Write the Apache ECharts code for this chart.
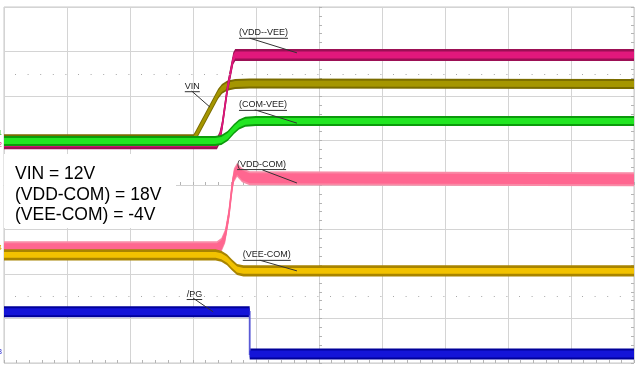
<!DOCTYPE html>
<html><head><meta charset="utf-8">
<script src="https://cdn.jsdelivr.net/npm/echarts@6/dist/echarts.min.js"></script>
<style>html,body{margin:0;padding:0;background:#fff}#c{width:640px;height:368px}</style>
</head><body><div id="c"></div>
<script>
// Oscilloscope screen in divisions: time -5..5 (10 div), amplitude -4..4 (8 div)
const xDivs = [-5, 5];
const yDivs = [-4, 4];
const dottedLevels = [2.5, -2.5];

// Traces [time(div), level(div)]
const vinTrace = [[-5,1.03],[-1.99,1.03],[-1.96,1.1],[-1.6,2.05],[-1.54,2.16],[-1.46,2.23],[-1.33,2.27],[-1.1,2.28],[5,2.27]];
const vddVeeTrace = [[-5,0.94],[-1.62,0.94],[-1.58,1.05],[-1.54,1.3],[-1.45,2.2],[-1.36,2.85],[-1.33,2.92],[5,2.92]];
const comVeeTrace = [[-5,0.99],[-1.65,0.99],[-1.55,1.01],[-1.45,1.1],[-1.35,1.26],[-1.27,1.36],[-1.17,1.42],[-1.0,1.44],[5,1.44]];
const vddComTrace = [[-5,-1.42],[-1.62,-1.42],[-1.55,-1.35],[-1.49,-1.15],[-1.43,-0.66],[-1.38,-0.04],[-1.35,0.22],[-1.30,0.34],[-1.22,0.22],[-1.1,0.15],[5,0.13]];
const veeComTrace = [[-5,-1.57],[-1.64,-1.57],[-1.55,-1.6],[-1.46,-1.68],[-1.38,-1.8],[-1.3,-1.9],[-1.2,-1.93],[5,-1.93]];
const pgTrace = [[-5,-2.85],[-1.1,-2.85],[-1.1,-3.80],[5,-3.80]];

// Trace labels with leader lines
const annoTexts = ['(VDD--VEE)','VIN','(COM-VEE)','(VDD-COM)','(VEE-COM)','/PG'];
const annoAt   = [[-1.27,3.42],[-2.13,2.22],[-1.27,1.80],[-1.30,0.47],[-1.21,-1.57],[-2.10,-2.45]];
const annoFrom = [[-1.10,3.30],[-2.02,2.11],[-1.02,1.69],[-0.90,0.34],[-0.94,-1.69],[-2.00,-2.54]];
const annoTo   = [[-0.35,2.97],[-1.73,1.75],[-0.35,1.39],[-0.35,0.045],[-0.35,-1.93],[-1.68,-2.85]];

const noteText = 'VIN = 12V\n(VDD-COM) = 18V\n(VEE-COM) = -4V';

const chart = echarts.init(document.getElementById('c'), null, {renderer:'canvas'});
const mctx = document.createElement('canvas').getContext('2d');
const annoFont = '9px "Liberation Sans", Arial, sans-serif';
mctx.font = annoFont;

function bandSeries(name, pts, hOut, hIn, outer, inner, edge, z) {
  return {
    type:'custom', name:name, data:pts, z:z, clip:true, silent:true,
    encode:{x:0, y:1},
    renderItem:function(params, api){
      if (params.dataIndex !== 0) return null;
      const up = h => pts.map(p => api.coord([p[0], p[1] + h]));
      const dn = h => pts.slice().reverse().map(p => api.coord([p[0], p[1] - h]));
      const poly = (h, c) => ({type:'polygon', shape:{points: up(h).concat(dn(h))}, style:{fill:c}});
      return {type:'group', children:[
        poly(hOut, outer),
        {type:'polyline', shape:{points: pts.map(p => api.coord(p))}, style:{stroke:edge, lineWidth:1.8, fill:null}},
        poly(hIn, inner)
      ]};
    }
  };
}

const tickAxisCommon = {
  type:'value', axisLabel:{show:false},
  axisTick:{show:true, inside:true, length:3, lineStyle:{color:'#b4b4b4'}},
  minorTick:{show:true, splitNumber:5, length:3, lineStyle:{color:'#b4b4b4'}}
};

chart.setOption({
  animation:false,
  backgroundColor:'#fff',
  grid:{left:4, right:6, top:7, bottom:5, show:true, borderColor:'#c8c8c8', borderWidth:1, backgroundColor:'#fff'},
  xAxis:[
    Object.assign({}, tickAxisCommon, {min:xDivs[0], max:xDivs[1], interval:1,
      axisLine:{show:true, onZero:true, lineStyle:{color:'#d0d0d0'}},
      splitLine:{show:true, lineStyle:{color:'#d4d4d4', width:1}}}),
    Object.assign({}, tickAxisCommon, {min:xDivs[0], max:xDivs[1], interval:1, position:'bottom',
      axisLine:{show:false, onZero:false}, splitLine:{show:false}})
  ],
  yAxis:[
    Object.assign({}, tickAxisCommon, {min:yDivs[0], max:yDivs[1], interval:1,
      axisLine:{show:true, onZero:true, lineStyle:{color:'#d0d0d0'}},
      splitLine:{show:true, lineStyle:{color:'#d4d4d4', width:1}}}),
    Object.assign({}, tickAxisCommon, {min:yDivs[0], max:yDivs[1], interval:1, position:'right',
      axisLine:{show:false, onZero:false}, splitLine:{show:false}})
  ],
  series:[
    {type:'line', data:[], silent:true, markLine:{silent:true, symbol:'none', label:{show:false},
      lineStyle:{type:[1,11.6], dashOffset:1.6, color:'#a8a8a8', width:1},
      data: dottedLevels.map(v => ({yAxis:v}))}},
    bandSeries('VIN', vinTrace, 0.112, 0.067, '#7a6c00', '#a59600', '#8a7a00', 3),
    bandSeries('VDD--VEE', vddVeeTrace, 0.135, 0.079, '#9c0f55', '#e2187c', '#c8106a', 4),
    bandSeries('COM-VEE', comVeeTrace, 0.112, 0.067, '#0c9a0c', '#22e622', '#18c018', 5),
    bandSeries('VDD-COM', vddComTrace, 0.157, 0.112, '#f98aa6', '#ff6690', '#ff6690', 6),
    bandSeries('VEE-COM', veeComTrace, 0.124, 0.067, '#a88400', '#f2c200', '#c89c00', 7),
    bandSeries('/PG', pgTrace, 0.124, 0.079, '#00009a', '#1414d8', '#5a5ad6', 8),
    {type:'custom', z:9, silent:true, clip:false, encode:{x:0,y:1},
      data: annoAt.map(p => [p[0], p[1]]),
      renderItem:function(params, api){
        const i = params.dataIndex;
        const at = api.coord(annoAt[i]), from = api.coord(annoFrom[i]), to = api.coord(annoTo[i]);
        const w = mctx.measureText(annoTexts[i]).width;
        return {type:'group', children:[
          {type:'text', x:at[0], y:at[1], style:{text:annoTexts[i], font:annoFont, fill:'#222', align:'left', verticalAlign:'middle'}},
          {type:'line', shape:{x1:at[0], y1:at[1]+5.5, x2:at[0]+w, y2:at[1]+5.5}, style:{stroke:'#333', lineWidth:1}},
          {type:'line', shape:{x1:from[0], y1:from[1], x2:to[0], y2:to[1]}, style:{stroke:'#333', lineWidth:1}}
        ]};
      }}
  ],
  graphic:[
    {type:'rect', left:4, top:154, z:20, shape:{width:172, height:74}, style:{fill:'#fff'}},
    {type:'text', left:15, top:164, z:21, style:{text:noteText, font:'17.5px "Liberation Sans", Arial, sans-serif', lineHeight:20.5, fill:'#000'}},
    {type:'text', left:-2, top:130, z:21, style:{text:'1', font:'7px sans-serif', fill:'#20c020'}},
    {type:'text', left:-2, top:142, z:21, style:{text:'2', font:'7px sans-serif', fill:'#e0207a'}},
    {type:'text', left:-2, top:245, z:21, style:{text:'4', font:'7px sans-serif', fill:'#d8a800'}},
    {type:'text', left:-2, top:349, z:21, style:{text:'3', font:'7px sans-serif', fill:'#2020d0'}}
  ]
});
</script></body></html>
